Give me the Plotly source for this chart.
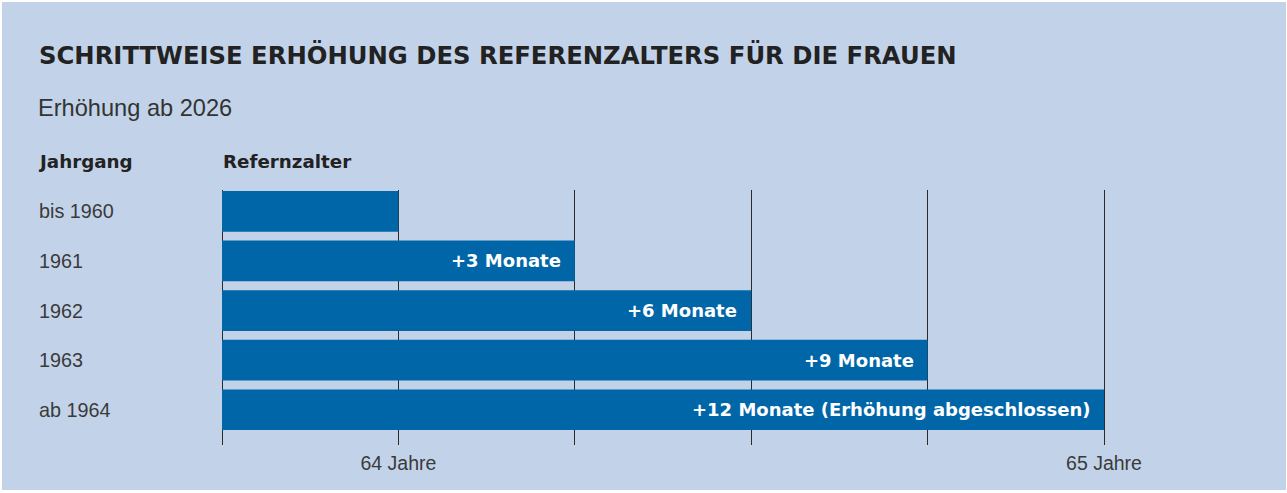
import plotly.graph_objects as go

# Data
categories = ["bis 1960", "1961", "1962", "1963", "ab 1964"]
ref_age = [64.0, 64.25, 64.5, 64.75, 65.0]
bar_labels = ["", "+3 Monate", "+6 Monate", "+9 Monate", "+12 Monate (Erhöhung abgeschlossen)"]
tick_vals = [63.75, 64.0, 64.25, 64.5, 64.75, 65.0]
tick_text = ["", "64 Jahre", "", "", "", "65 Jahre"]
base_age = 63.75

W, H = 1287, 493
L, R, T, B = 220, 1110, 190, 445
PW, PH = R - L, B - T
BG = "#c2d3e9"
BAR = "#0066a8"
FONT = "Liberation Sans, Arial, Helvetica, sans-serif"
BFONT = "DejaVu Sans, Liberation Sans, Arial, sans-serif"

def px_x(x):
    return (x - L) / PW

def px_y(y):
    return (B - y) / PH

px_per_unit = 176.4 / 0.25
x0 = base_age - 2 / px_per_unit
x1 = x0 + PW / px_per_unit

fig = go.Figure()
fig.add_trace(go.Bar(
    y=list(range(len(categories))),
    x=[v - base_age for v in ref_age],
    base=base_age,
    orientation="h",
    width=0.82,
    marker=dict(color=BAR, line=dict(width=0)),
    hoverinfo="skip",
))

annotations = []
for i, (cat, v, lab) in enumerate(zip(categories, ref_age, bar_labels)):
    annotations.append(dict(
        x=px_x(37), xref="paper", y=i, yref="y", text=cat, showarrow=False,
        xanchor="left", yanchor="middle", font=dict(family=FONT, size=19.8, color="#3a3a3a")))
    if lab:
        annotations.append(dict(
            x=v, xref="x", y=i, yref="y", text="<b>" + lab + "</b>", showarrow=False,
            xanchor="right", yanchor="middle", xshift=-12,
            font=dict(family=BFONT, size=18, color="white")))

annotations += [
    dict(x=px_x(37), xref="paper", y=px_y(55), yref="paper",
         text="<b>SCHRITTWEISE ERHÖHUNG DES REFERENZALTERS FÜR DIE FRAUEN</b>",
         showarrow=False, xanchor="left", yanchor="middle",
         font=dict(family=BFONT, size=24.3, color="#222222")),
    dict(x=px_x(36), xref="paper", y=px_y(108), yref="paper",
         text="Erhöhung ab 2026", showarrow=False, xanchor="left", yanchor="middle",
         font=dict(family=FONT, size=23.6, color="#333333")),
    dict(x=px_x(36), xref="paper", y=px_y(161), yref="paper",
         text="<b>Jahrgang</b>", showarrow=False, xanchor="left", yanchor="middle",
         font=dict(family=BFONT, size=18.3, color="#222222")),
    dict(x=px_x(221), xref="paper", y=px_y(161), yref="paper",
         text="<b>Refernzalter</b>", showarrow=False, xanchor="left", yanchor="middle",
         font=dict(family=BFONT, size=18.3, color="#222222")),
]

fig.update_layout(
    width=W, height=H,
    margin=dict(l=L, r=W - R, t=T, b=H - B, pad=0),
    paper_bgcolor="white",
    plot_bgcolor=BG,
    showlegend=False,
    annotations=annotations,
    shapes=[dict(type="rect", xref="paper", yref="paper", layer="below",
                 x0=px_x(2), x1=px_x(W - 1), y0=px_y(H - 3), y1=px_y(2),
                 fillcolor=BG, line=dict(width=0))],
    xaxis=dict(range=[x0, x1], tickvals=tick_vals, ticktext=tick_text,
               showgrid=True, gridcolor="#2a2a2a", gridwidth=1.3,
               zeroline=False, showline=False,
               ticks="outside", ticklen=1, tickcolor="rgba(0,0,0,0)",
               tickfont=dict(family=FONT, size=19.5, color="#3a3a3a"),
               fixedrange=True),
    yaxis=dict(range=[4.71, -0.43], showticklabels=False, showgrid=False,
               zeroline=False, showline=False, fixedrange=True),
)

fig.write_html("out.html", config={"displayModeBar": False},
               post_script="document.body.style.margin='0';document.body.style.overflow='hidden';")
